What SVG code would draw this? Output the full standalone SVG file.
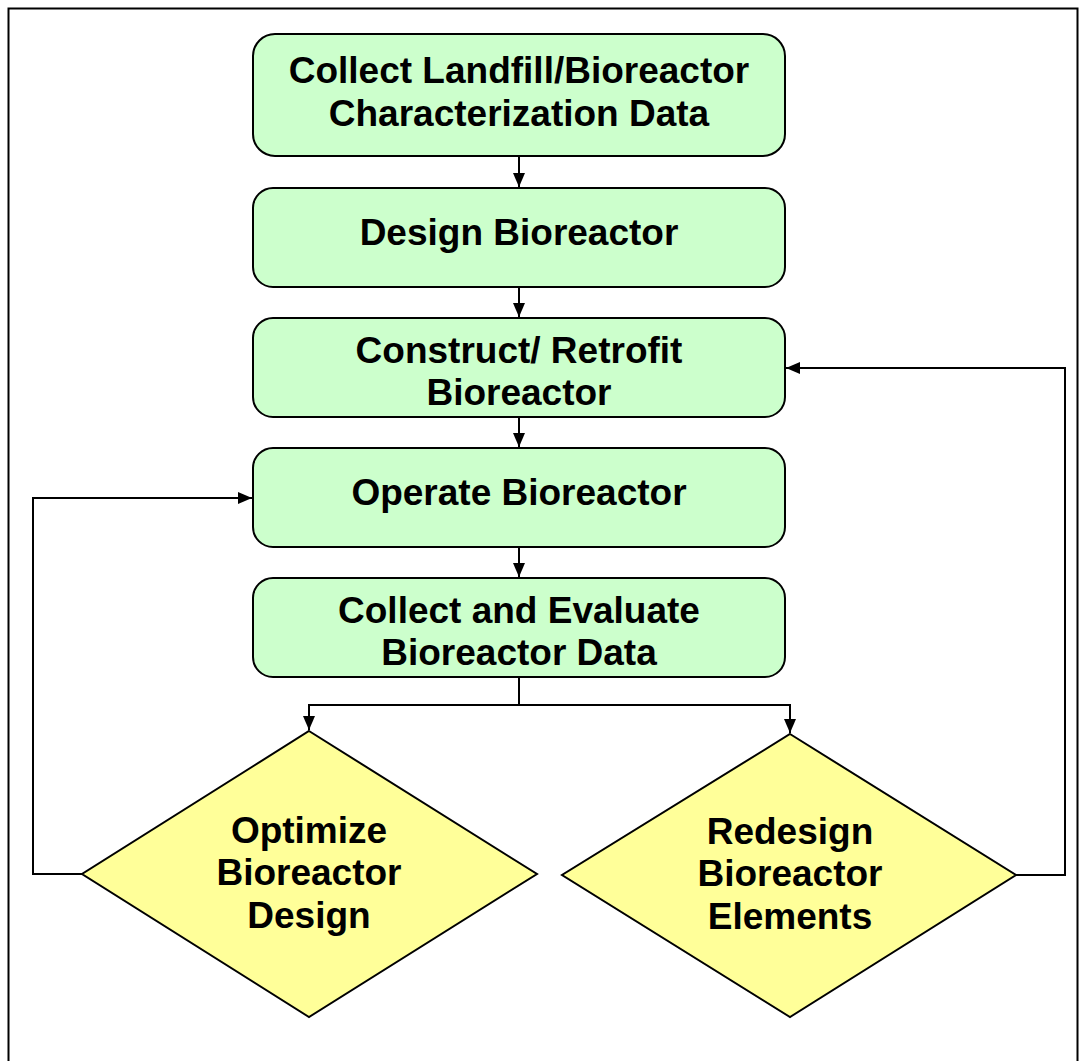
<svg xmlns="http://www.w3.org/2000/svg" width="1079" height="1061" viewBox="0 0 1079 1061">
<defs>
<marker id="arr" viewBox="0 0 14 12" refX="14" refY="6" markerWidth="14" markerHeight="12" markerUnits="userSpaceOnUse" orient="auto">
<path d="M0,0 L14,6 L0,12 Z" fill="#000"/>
</marker>
<style>
.box{fill:#CCFFCC;stroke:#000;stroke-width:2}
.dia{fill:#FFFF99;stroke:#000;stroke-width:2}
.lbl{font-family:"Liberation Sans",Arial,sans-serif;font-weight:bold;font-size:37px;fill:#000;text-anchor:middle}
.con{fill:none;stroke:#000;stroke-width:2}
</style>
</defs>
<rect x="0" y="0" width="1079" height="1061" fill="#fff"/>
<path d="M8.5,1061 V8.5 H1077.5 V1061" fill="none" stroke="#000" stroke-width="2"/>

<g id="collect-data">
<rect class="box" x="253" y="34" width="532" height="122" rx="22"/>
<text class="lbl" x="519" y="83">Collect Landfill/Bioreactor</text>
<text class="lbl" x="519" y="126">Characterization Data</text>
</g>
<g id="design">
<rect class="box" x="253" y="188" width="532" height="99" rx="20"/>
<text class="lbl" x="519" y="245">Design Bioreactor</text>
</g>
<g id="construct">
<rect class="box" x="253" y="318" width="532" height="99" rx="20"/>
<text class="lbl" x="519" y="363">Construct/ Retrofit</text>
<text class="lbl" x="519" y="405">Bioreactor</text>
</g>
<g id="operate">
<rect class="box" x="253" y="448" width="532" height="99" rx="20"/>
<text class="lbl" x="519" y="505">Operate Bioreactor</text>
</g>
<g id="evaluate">
<rect class="box" x="253" y="578" width="532" height="99" rx="20"/>
<text class="lbl" x="519" y="623">Collect and Evaluate</text>
<text class="lbl" x="519" y="665">Bioreactor Data</text>
</g>
<g id="optimize">
<polygon class="dia" points="309,731 537,874 309,1017 82,874"/>
<text class="lbl" x="309" y="843">Optimize</text>
<text class="lbl" x="309" y="885">Bioreactor</text>
<text class="lbl" x="309" y="928">Design</text>
</g>
<g id="redesign">
<polygon class="dia" points="790,734 1016,875 790,1017 562,875"/>
<text class="lbl" x="790" y="844">Redesign</text>
<text class="lbl" x="790" y="886">Bioreactor</text>
<text class="lbl" x="790" y="929">Elements</text>
</g>

<g id="connectors">
<path class="con" d="M519,156 V187" marker-end="url(#arr)"/>
<path class="con" d="M519,287 V317" marker-end="url(#arr)"/>
<path class="con" d="M519,417 V447" marker-end="url(#arr)"/>
<path class="con" d="M519,547 V577" marker-end="url(#arr)"/>
<path class="con" d="M519,677 V705 H309 V730" marker-end="url(#arr)"/>
<path class="con" d="M519,705 H790 V733" marker-end="url(#arr)"/>
<path class="con" d="M82,874 H33 V498 H252" marker-end="url(#arr)"/>
<path class="con" d="M1016,875 H1065 V368 H786" marker-end="url(#arr)"/>
</g>
</svg>
